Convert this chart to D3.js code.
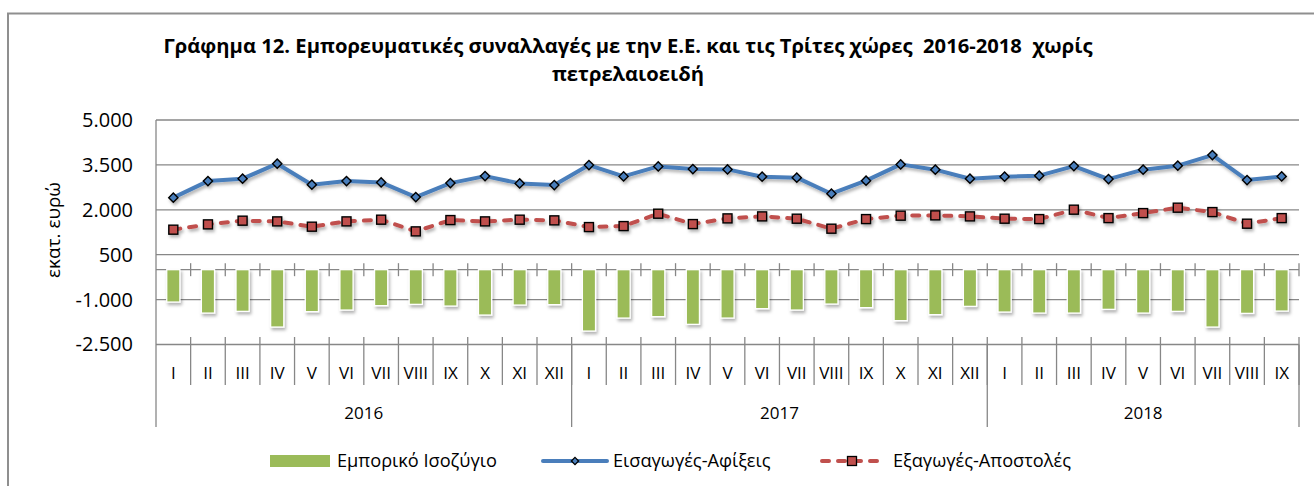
<!DOCTYPE html>
<html>
<head>
<meta charset="utf-8">
<script src="https://cdn.jsdelivr.net/npm/d3@7"></script>
<style>
  body { margin: 0; background: #fff; }
  svg { display: block; font-family: "Open Sans", "Noto Sans", sans-serif; }
  svg text { white-space: pre; }
</style>
</head>
<body>
<div id="chart"></div>
<script>
// ---- data (million euro) ----
const years = ['2016', '2017', '2018'];
const monthsPerYear = [12, 12, 9];
const monthLabels = ['I', 'II', 'III', 'IV', 'V', 'VI', 'VII', 'VIII', 'IX', 'X', 'XI', 'XII'];
const yTicks = [-2500, -1000, 500, 2000, 3500, 5000];

const balance = [
  -1082, -1450, -1393, -1917, -1403, -1349, -1202, -1159, -1216, -1516, -1182, -1169,
  -2051, -1617, -1570, -1827, -1617, -1303, -1349, -1149, -1269, -1703, -1503, -1226,
  -1416, -1450, -1450, -1326, -1450, -1393, -1917, -1460, -1383
];
const imports = [
  2405, 2959, 3039, 3540, 2839, 2959, 2916, 2425, 2892, 3126, 2882, 2826,
  3494, 3116, 3450, 3360, 3350, 3106, 3073, 2538, 2973, 3517, 3340, 3039,
  3106, 3140, 3460, 3026, 3340, 3474, 3828, 2993, 3116
];
const exports = [
  1336, 1513, 1637, 1613, 1436, 1613, 1670, 1279, 1657, 1613, 1670, 1647,
  1423, 1456, 1870, 1523, 1713, 1780, 1703, 1369, 1690, 1804, 1814, 1780,
  1703, 1690, 2004, 1723, 1890, 2071, 1924, 1536, 1723
];
const seriesNames = ['Εμπορικό Ισοζύγιο', 'Εισαγωγές-Αφίξεις', 'Εξαγωγές-Αποστολές'];
const titleLines = [
  'Γράφημα 12. Εμπορευματικές συναλλαγές με την Ε.Ε. και τις Τρίτες χώρες  2016-2018  χωρίς',
  'πετρελαιοειδή'
];
const yTitle = 'εκατ. ευρώ';

(function() {
  const width = 1314, height = 486;
  const plot = {left: 156, right: 1299, top: 120, bottom: 344.5};
  const colors = {bar: '#9bbb59', imp: '#4a7ebb', exp: '#c0504d', grid: '#878787'};

  // month categories with their year
  const cats = [];
  years.forEach((yr, yi) => {
    monthLabels.slice(0, monthsPerYear[yi]).forEach(m => cats.push({year: yr, month: m}));
  });
  const idx = d3.range(cats.length);

  const svg = d3.select('#chart').append('svg')
    .attr('width', width)
    .attr('height', height);

  const defs = svg.append('defs');
  const f = defs.append('filter').attr('id', 'shadow')
    .attr('x', '-30%').attr('y', '-30%').attr('width', '160%').attr('height', '160%');
  f.append('feDropShadow')
    .attr('dx', 1.5).attr('dy', 2.5).attr('stdDeviation', 1.6)
    .attr('flood-color', '#000').attr('flood-opacity', 0.3);

  // outer frame (runs off the right/bottom edge like the source)
  svg.append('rect')
    .attr('x', 8).attr('y', 13.5)
    .attr('width', width).attr('height', height)
    .attr('fill', 'none')
    .attr('stroke', '#8f8f8f')
    .attr('stroke-width', 2);

  const x = d3.scaleBand().domain(idx).range([plot.left, plot.right]);
  const y = d3.scaleLinear().domain([-2500, 5000]).range([plot.bottom, plot.top]);
  const bw = x.bandwidth();
  const y0 = y(0);

  const locale = d3.formatLocale({decimal: ',', thousands: '.', grouping: [3], currency: ['', '€'], minus: '-'});
  const fmt = locale.format(',d');

  // grid
  const grid = svg.append('g');
  grid.selectAll('line.h')
    .data(yTicks)
    .enter()
    .append('line')
    .attr('x1', plot.left).attr('x2', plot.right)
    .attr('y1', d => y(d)).attr('y2', d => y(d))
    .attr('stroke', colors.grid).attr('stroke-width', 1.3);

  // value axis labels
  const yAxis = svg.append('g')
    .attr('transform', `translate(${plot.left},0)`)
    .call(d3.axisLeft(y).tickValues(yTicks).tickFormat(fmt).tickSize(0).tickPadding(23));
  yAxis.select('.domain').remove();
  yAxis.selectAll('text')
    .attr('font-family', '"Open Sans", sans-serif')
    .attr('font-size', 20)
    .attr('fill', '#000');

  // value axis line, continues down through the category labels
  svg.append('line')
    .attr('x1', plot.left).attr('x2', plot.left)
    .attr('y1', plot.top).attr('y2', 427)
    .attr('stroke', colors.grid).attr('stroke-width', 1.3);

  // category axis at zero with crossing ticks
  svg.append('line')
    .attr('x1', plot.left).attr('x2', plot.right)
    .attr('y1', y0).attr('y2', y0)
    .attr('stroke', colors.grid).attr('stroke-width', 1.3);
  const bounds = d3.range(1, cats.length + 1).map(i => plot.left + i * bw);
  svg.append('g').selectAll('line')
    .data(bounds)
    .enter()
    .append('line')
    .attr('x1', d => d).attr('x2', d => d)
    .attr('y1', y0 - 6.5).attr('y2', y0 + 6.5)
    .attr('stroke', colors.grid).attr('stroke-width', 1.3);

  // month separators below the plot
  svg.append('g').selectAll('line')
    .data(bounds)
    .enter()
    .append('line')
    .attr('x1', d => d).attr('x2', d => d)
    .attr('y1', plot.bottom - 7.5).attr('y2', 385)
    .attr('stroke', colors.grid).attr('stroke-width', 1.3);

  // year separators
  const yearEnds = Array.from(d3.cumsum(monthsPerYear));
  const yearStarts = [0].concat(yearEnds.slice(0, -1));
  svg.append('g').selectAll('line')
    .data(yearEnds)
    .enter()
    .append('line')
    .attr('x1', d => plot.left + d * bw).attr('x2', d => plot.left + d * bw)
    .attr('y1', plot.bottom).attr('y2', 427)
    .attr('stroke', colors.grid).attr('stroke-width', 1.3);

  // month labels
  const xAxis = svg.append('g')
    .attr('transform', `translate(0,${plot.bottom})`)
    .call(d3.axisBottom(x).tickFormat(i => cats[i].month).tickSize(0).tickPadding(22));
  xAxis.select('.domain').remove();
  xAxis.selectAll('text')
    .attr('font-family', '"Open Sans", sans-serif')
    .attr('font-size', 17)
    .attr('fill', '#000');

  // year labels
  svg.append('g').selectAll('text')
    .data(years)
    .enter()
    .append('text')
    .attr('x', (d, i) => plot.left + (yearStarts[i] + monthsPerYear[i] / 2) * bw)
    .attr('y', 413)
    .attr('dy', '0.35em')
    .attr('text-anchor', 'middle')
    .attr('font-size', 17)
    .attr('fill', '#000')
    .text(d => d);

  // bars
  const barW = bw * 0.38;
  svg.append('g').attr('filter', 'url(#shadow)')
    .selectAll('rect')
    .data(balance)
    .enter()
    .append('rect')
    .attr('x', (d, i) => x(i) + (bw - barW) / 2)
    .attr('y', d => Math.min(y(d), y0))
    .attr('width', barW)
    .attr('height', d => Math.abs(y(d) - y0))
    .attr('fill', colors.bar)
    .attr('stroke', '#fff')
    .attr('stroke-width', 1.3);

  const cx = i => x(i) + bw / 2;
  const line = d3.line().x((d, i) => cx(i)).y(d => y(d));
  const diamond = r => `M0,${-r}L${r},0L0,${r}L${-r},0Z`;

  // imports line
  const gi = svg.append('g').attr('filter', 'url(#shadow)');
  gi.append('path')
    .datum(imports)
    .attr('d', line)
    .attr('fill', 'none')
    .attr('stroke', colors.imp)
    .attr('stroke-width', 4)
    .attr('stroke-linejoin', 'round');
  gi.selectAll('path.m')
    .data(imports)
    .enter()
    .append('path')
    .attr('class', 'm')
    .attr('d', diamond(4.6))
    .attr('transform', (d, i) => `translate(${cx(i)},${y(d)})`)
    .attr('fill', colors.imp)
    .attr('stroke', '#000')
    .attr('stroke-width', 1.4);

  // exports line
  const ge = svg.append('g').attr('filter', 'url(#shadow)');
  ge.append('path')
    .datum(exports)
    .attr('d', line)
    .attr('fill', 'none')
    .attr('stroke', colors.exp)
    .attr('stroke-width', 4)
    .attr('stroke-linecap', 'round')
    .attr('stroke-dasharray', '7,9');
  ge.selectAll('rect')
    .data(exports)
    .enter()
    .append('rect')
    .attr('x', (d, i) => cx(i) - 4.5)
    .attr('y', d => y(d) - 4.5)
    .attr('width', 9).attr('height', 9)
    .attr('fill', colors.exp)
    .attr('stroke', '#000')
    .attr('stroke-width', 1.4);

  // title: size fitted so the first line spans the same width as the source
  const title = svg.append('g').attr('font-weight', 'bold').attr('fill', '#000');
  const t1 = title.append('text').attr('x', 628).attr('y', 53).attr('text-anchor', 'middle')
    .attr('xml:space', 'preserve')
    .attr('font-size', 18).text(titleLines[0]);
  const tSize = 18 * 930 / t1.node().getComputedTextLength();
  t1.attr('font-size', tSize);
  title.append('text').attr('x', 628).attr('y', 81).attr('text-anchor', 'middle')
    .attr('font-size', tSize).text(titleLines[1]);

  // y title, fitted to the source length
  const yt = svg.append('text')
    .attr('transform', 'translate(53,230) rotate(-90)')
    .attr('text-anchor', 'middle')
    .attr('dy', '0.35em')
    .attr('font-size', 17)
    .attr('fill', '#000')
    .text(yTitle);
  yt.attr('font-size', 17 * 96 / yt.node().getComputedTextLength());

  // legend
  const ly = 461;
  const legend = svg.append('g');
  legend.append('rect')
    .attr('x', 270).attr('y', ly - 6).attr('width', 60).attr('height', 12)
    .attr('fill', colors.bar);
  legend.append('line')
    .attr('x1', 543).attr('x2', 607).attr('y1', ly).attr('y2', ly)
    .attr('stroke', colors.imp).attr('stroke-width', 4).attr('stroke-linecap', 'round');
  legend.append('path')
    .attr('d', diamond(3.6))
    .attr('transform', `translate(575,${ly})`)
    .attr('fill', colors.imp).attr('stroke', '#000').attr('stroke-width', 1.3);
  legend.append('line')
    .attr('x1', 822).attr('x2', 884).attr('y1', ly).attr('y2', ly)
    .attr('stroke', colors.exp).attr('stroke-width', 4).attr('stroke-linecap', 'round')
    .attr('stroke-dasharray', '7,9');
  legend.append('rect')
    .attr('x', 852 - 4.5).attr('y', ly - 4.5).attr('width', 9).attr('height', 9)
    .attr('fill', colors.exp).attr('stroke', '#000').attr('stroke-width', 1.3);

  const lx = [337, 613, 893];
  const lt = legend.selectAll('text.l')
    .data(seriesNames)
    .enter()
    .append('text')
    .attr('class', 'l')
    .attr('x', (d, i) => lx[i])
    .attr('y', ly)
    .attr('dy', '0.35em')
    .attr('font-size', 17)
    .attr('fill', '#000')
    .text(d => d);
  const lSize = 17 * 160 / lt.node().getComputedTextLength();
  lt.attr('font-size', lSize);
})();
</script>
</body>
</html>
